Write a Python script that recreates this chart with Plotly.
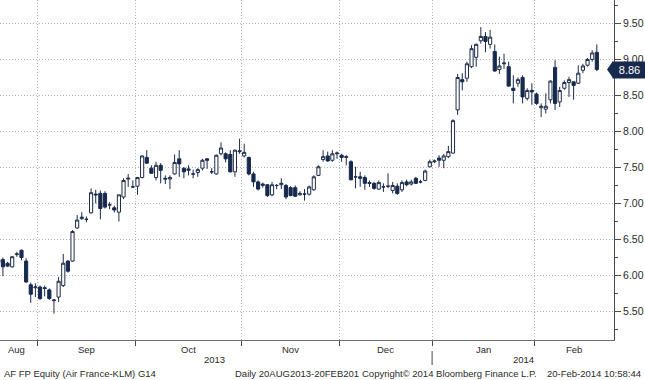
import plotly.graph_objects as go
import pandas as pd

# ---- data -------------------------------------------------------------
holidays = ["2013-12-25", "2013-12-26", "2014-01-01"]
dates = [d for d in pd.bdate_range("2013-08-20", "2014-02-20")
         if d.strftime("%Y-%m-%d") not in holidays]

open_ = [6.18, 6.22, 6.17, 6.12, 6.29, 6.35, 6.20, 5.87, 5.83, 5.84,
         5.83, 5.80, 5.65, 5.70, 5.86, 6.20, 6.20, 6.66, 6.79, 6.78,
         6.87, 7.13, 7.14, 7.14, 6.98, 6.94, 6.88, 7.09, 7.34, 7.23,
         7.24, 7.36, 7.64, 7.49, 7.36, 7.53, 7.35, 7.34, 7.41, 7.62,
         7.49, 7.46, 7.41, 7.43, 7.49, 7.62, 7.44, 7.41, 7.69, 7.69,
         7.68, 7.44, 7.72, 7.66, 7.64, 7.41, 7.30, 7.25, 7.26, 7.12,
         7.25, 7.26, 7.25, 7.22, 7.22, 7.12, 7.13, 7.13, 7.19, 7.39,
         7.61, 7.66, 7.60, 7.69, 7.67, 7.64, 7.58, 7.37, 7.37, 7.36,
         7.29, 7.28, 7.20, 7.23, 7.24, 7.18, 7.24, 7.19, 7.30, 7.27,
         7.35, 7.30, 7.32, 7.51, 7.58, 7.63, 7.60, 7.65, 7.70, 8.30,
         8.72, 8.74, 8.90, 9.03, 9.26, 9.32, 9.21, 9.11, 8.86, 8.94,
         8.90, 8.60, 8.67, 8.75, 8.46, 8.57, 8.52, 8.33, 8.31, 8.44,
         8.89, 8.41, 8.60, 8.68, 8.69, 8.67, 8.85, 8.92, 9.00, 9.10]
high = [6.27, 6.25, 6.19, 6.27, 6.33, 6.36, 6.24, 5.90, 5.89, 5.86,
        5.86, 5.82, 5.67, 5.98, 6.30, 6.21, 6.63, 6.84, 6.88, 6.82,
        7.21, 7.19, 7.18, 7.17, 7.02, 6.97, 7.12, 7.35, 7.41, 7.32,
        7.37, 7.67, 7.74, 7.53, 7.58, 7.56, 7.39, 7.39, 7.68, 7.74,
        7.50, 7.53, 7.47, 7.49, 7.62, 7.63, 7.49, 7.68, 7.85, 7.71,
        7.74, 7.75, 7.90, 7.83, 7.65, 7.44, 7.32, 7.29, 7.27, 7.30,
        7.27, 7.35, 7.27, 7.24, 7.25, 7.17, 7.20, 7.25, 7.39, 7.53,
        7.74, 7.72, 7.74, 7.72, 7.69, 7.67, 7.60, 7.51, 7.44, 7.39,
        7.32, 7.30, 7.32, 7.28, 7.42, 7.30, 7.28, 7.32, 7.33, 7.33,
        7.37, 7.33, 7.47, 7.61, 7.61, 7.67, 7.69, 7.80, 8.17, 8.80,
        8.81, 8.97, 9.20, 9.22, 9.45, 9.38, 9.41, 9.21, 9.04, 9.08,
        8.97, 8.78, 8.75, 8.78, 8.60, 8.67, 8.54, 8.39, 8.53, 8.71,
        8.99, 8.62, 8.71, 8.76, 8.69, 8.92, 8.94, 9.02, 9.13, 9.21]
low = [6.14, 5.99, 6.12, 6.11, 6.26, 6.21, 5.90, 5.62, 5.70, 5.66,
       5.71, 5.66, 5.47, 5.63, 5.84, 6.04, 6.19, 6.65, 6.77, 6.74,
       6.86, 7.00, 6.78, 6.93, 6.92, 6.875, 6.75, 7.06, 7.23, 7.22,
       7.12, 7.35, 7.55, 7.41, 7.32, 7.28, 7.27, 7.20, 7.40, 7.37,
       7.35, 7.39, 7.35, 7.37, 7.46, 7.48, 7.41, 7.40, 7.67, 7.57,
       7.43, 7.37, 7.69, 7.64, 7.39, 7.23, 7.18, 7.22, 7.09, 7.10,
       7.20, 7.20, 7.06, 7.10, 7.09, 7.11, 7.04, 7.11, 7.18, 7.38,
       7.58, 7.58, 7.58, 7.62, 7.58, 7.53, 7.32, 7.21, 7.23, 7.19,
       7.23, 7.19, 7.19, 7.16, 7.21, 7.14, 7.12, 7.16, 7.24, 7.25,
       7.27, 7.28, 7.31, 7.50, 7.56, 7.51, 7.49, 7.63, 7.69, 8.23,
       8.57, 8.69, 8.88, 8.90, 9.22, 9.10, 9.15, 8.83, 8.80, 8.87,
       8.62, 8.39, 8.62, 8.39, 8.43, 8.37, 8.37, 8.20, 8.25, 8.39,
       8.30, 8.34, 8.58, 8.48, 8.44, 8.66, 8.81, 8.90, 8.97, 8.84]
close = [6.22, 6.12, 6.13, 6.26, 6.30, 6.25, 5.91, 5.74, 5.84, 5.68,
         5.82, 5.68, 5.66, 5.92, 6.17, 6.06, 6.61, 6.77, 6.81, 6.78,
         7.15, 7.12, 6.93, 6.95, 6.98, 6.91, 7.12, 7.32, 7.35, 7.23,
         7.36, 7.66, 7.56, 7.42, 7.53, 7.46, 7.34, 7.36, 7.57, 7.55,
         7.44, 7.48, 7.41, 7.47, 7.60, 7.60, 7.44, 7.67, 7.77, 7.62,
         7.44, 7.74, 7.73, 7.71, 7.41, 7.30, 7.20, 7.27, 7.11, 7.26,
         7.25, 7.28, 7.09, 7.11, 7.10, 7.14, 7.13, 7.23, 7.37, 7.51,
         7.65, 7.59, 7.69, 7.70, 7.64, 7.65, 7.33, 7.37, 7.35, 7.28,
         7.28, 7.21, 7.29, 7.23, 7.24, 7.25, 7.14, 7.29, 7.26, 7.30,
         7.28, 7.30, 7.45, 7.58, 7.59, 7.60, 7.66, 7.72, 8.15, 8.75,
         8.69, 8.94, 9.15, 9.21, 9.32, 9.25, 9.31, 8.84, 8.91, 8.95,
         8.63, 8.57, 8.72, 8.48, 8.57, 8.55, 8.39, 8.35, 8.35, 8.70,
         8.39, 8.57, 8.68, 8.72, 8.64, 8.81, 8.91, 9.00, 9.09, 8.86]

month_names = ["Aug", "Sep", "Oct", "Nov", "Dec", "Jan", "Feb"]
years = ["2013", "2014"]
footer_left = "AF FP Equity (Air France-KLM) G14"
footer_mid = "Daily 20AUG2013-20FEB201"
footer_copy = "Copyright\u00a9 2014 Bloomberg Finance L.P."
footer_right = "20-Feb-2014 10:58:44"

# ---- layout constants ------------------------------------------------
W, H = 645, 380
ML, MR, MT, MB = 0, 31, 0, 40
PW = W - ML - MR
PH = H - MT - MB
XR = [0.37, 132.7]
YR = [5.104, 9.826]
FONT = "Liberation Sans, Arial, sans-serif"
TXT = "#2a2a2a"
NAVY = "#172a4e"
GRID = "#b4b4b4"
AXIS = "#4a4a4a"

idx = list(range(len(dates)))

# month / year boundaries derived from the dates
month_start = [0] + [i for i in range(1, len(dates)) if dates[i].month != dates[i - 1].month]
bounds = [s - 0.5 for s in month_start] + [XR[1]]
month_centers = [(bounds[i] + bounds[i + 1]) / 2 for i in range(len(month_start))]
year_start = [0] + [i for i in range(1, len(dates)) if dates[i].year != dates[i - 1].year]
ybounds = [s - 0.5 for s in year_start] + [XR[1]]
year_centers = [(ybounds[i] + ybounds[i + 1]) / 2 for i in range(len(year_start))]

fig = go.Figure()
fig.add_trace(go.Candlestick(
    x=idx, open=open_, high=high, low=low, close=close,
    increasing=dict(fillcolor="white", line=dict(color="#1f2d4a", width=1)),
    decreasing=dict(fillcolor=NAVY, line=dict(color=NAVY, width=1)),
    whiskerwidth=0, showlegend=False, hoverinfo="skip",
))

fig.update_layout(
    width=W, height=H,
    margin=dict(l=ML, r=MR, t=MT, b=MB),
    paper_bgcolor="white", plot_bgcolor="white",
    boxgap=0.2, boxgroupgap=0.15,
    font=dict(family=FONT, color=TXT),
    xaxis=dict(
        range=XR, rangeslider=dict(visible=False),
        tickmode="array", tickvals=[s - 0.5 for s in month_start[1:]],
        showticklabels=False, ticks="outside", ticklen=5, tickcolor=AXIS,
        showgrid=True, gridcolor=GRID, griddash="1px,2px", gridwidth=1,
        showline=True, linecolor="#707070", linewidth=1,
        zeroline=False, fixedrange=True, automargin=False,
    ),
    yaxis=dict(
        range=YR, side="right", tick0=5.5, dtick=0.5, tickformat=".2f",
        ticks="outside", ticklen=6, tickcolor=AXIS,
        minor=dict(dtick=0.25, tick0=5.5, ticks="outside", ticklen=3,
                   tickcolor=AXIS, showgrid=False),
        tickfont=dict(size=10.5, color=TXT, family=FONT),
        showgrid=True, gridcolor=GRID, griddash="1px,2px", gridwidth=1,
        showline=True, linecolor=AXIS, linewidth=1,
        zeroline=False, fixedrange=True, automargin=False,
    ),
)

ann = []
for name, cx in zip(month_names, month_centers):
    ann.append(dict(x=cx, xref="x", y=-(350 - PH) / PH, yref="paper",
                    text=name, showarrow=False, xanchor="center", yanchor="middle",
                    font=dict(size=9.5, color=TXT, family=FONT)))
for name, cx in zip(years, year_centers):
    ann.append(dict(x=cx, xref="x", y=-(359.5 - PH) / PH, yref="paper",
                    text=name, showarrow=False, xanchor="center", yanchor="middle",
                    font=dict(size=9.5, color=TXT, family=FONT)))
fy = -(373.5 - PH) / PH
ann.append(dict(x=2 / PW, xref="paper", y=fy, yref="paper", text=footer_left,
                showarrow=False, xanchor="left", yanchor="middle",
                font=dict(size=9.5, color=TXT, family=FONT)))
ann.append(dict(x=233 / PW, xref="paper", y=fy, yref="paper", text=footer_mid,
                showarrow=False, xanchor="left", yanchor="middle",
                font=dict(size=9.5, color=TXT, family=FONT)))
ann.append(dict(x=360 / PW, xref="paper", y=fy, yref="paper", text=footer_copy,
                showarrow=False, xanchor="left", yanchor="middle",
                font=dict(size=9.5, color=TXT, family=FONT)))
ann.append(dict(x=643 / PW, xref="paper", y=fy, yref="paper", text=footer_right,
                showarrow=False, xanchor="right", yanchor="middle",
                font=dict(size=9.5, color=TXT, family=FONT)))
# last price label
last = close[-1]
ann.append(dict(x=612 / PW, xref="paper", y=last, yref="y", text=f"{last:.2f}",
                showarrow=False, xanchor="left", yanchor="middle",
                bgcolor=NAVY, borderpad=2, width=29, align="center",
                font=dict(size=11, color="white", family=FONT)))
fig.update_layout(annotations=ann)

# arrow tip of the last price label and the year separator
upp = (YR[1] - YR[0]) / PH
half = 8.5 * upp
x_tip, x_base = 607 / PW, 613 / PW
fig.add_shape(type="path", xref="paper", yref="y",
              path=f"M {x_tip},{last} L {x_base},{last + half} L {x_base},{last - half} Z",
              fillcolor=NAVY, line=dict(width=0))
for s in year_start[1:]:
    fig.add_shape(type="line", xref="x", yref="paper", x0=s - 0.5, x1=s - 0.5,
                  y0=-(351 - PH) / PH, y1=-(365 - PH) / PH,
                  line=dict(color=AXIS, width=1))

fig.write_html("out.html", config={"displayModeBar": False},
               post_script="document.body.style.margin='0px';"
                           "document.body.style.overflow='hidden';")
